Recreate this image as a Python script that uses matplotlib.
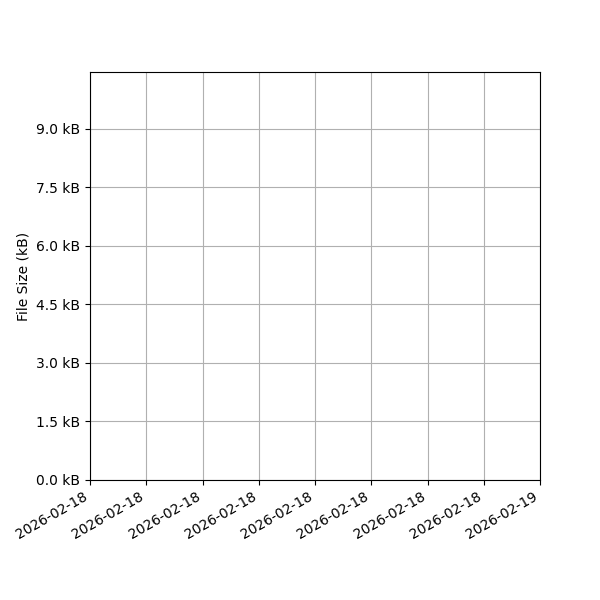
import datetime as dt
import matplotlib
matplotlib.use('Agg')
import matplotlib.pyplot as plt
import matplotlib.dates as mdates
from matplotlib.ticker import FuncFormatter

# no file records in the picture: the series is empty
dates = []
sizes_bytes = []

x_start = dt.datetime(2026, 2, 18, 0, 0)
x_end = dt.datetime(2026, 2, 19, 0, 0)
y_max = 10460
y_ticks = [0, 1500, 3000, 4500, 6000, 7500, 9000]

fig, ax = plt.subplots(figsize=(6, 6), dpi=100)
fig.subplots_adjust(left=0.15, right=0.9, top=0.88, bottom=0.2)

ax.plot(dates, sizes_bytes, marker='o')

ax.set_xlim(x_start, x_end)
ax.xaxis.set_major_locator(mdates.HourLocator(byhour=range(0, 24, 3)))
ax.xaxis.set_major_formatter(mdates.DateFormatter('%Y-%m-%d'))
for lbl in ax.get_xticklabels():
    lbl.set_rotation(30)
    lbl.set_ha('right')

ax.set_ylim(0, y_max)
ax.set_yticks(y_ticks)
ax.yaxis.set_major_formatter(FuncFormatter(lambda v, p: f'{v / 1000:.1f} kB'))
ax.set_ylabel('File Size (kB)')
ax.grid(True)

fig.savefig('out.png')
